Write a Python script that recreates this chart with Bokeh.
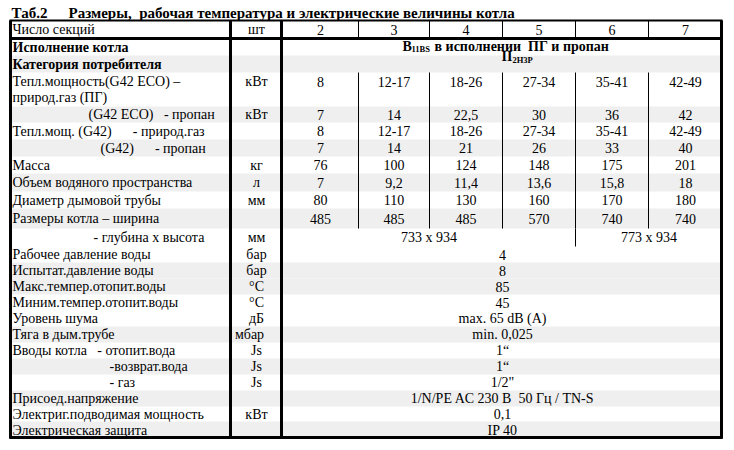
from bokeh.plotting import figure
from bokeh.models import Range1d, ColumnDataSource
from bokeh.core.properties import value
from bokeh.embed import file_html
from bokeh.resources import INLINE

# ---------------- data ----------------
title_lead = "Таб.2"
title_text = "Размеры,\u00a0\u00a0рабочая температура и электрические величины котла"

header_label = "Число секций"
header_unit = "шт"
sections = ["2", "3", "4", "5", "6", "7"]

version_label = "Исполнение котла"
version_main = "B"
version_sub = "11BS"
version_rest = "в исполнении\u00a0\u00a0ПГ и пропан"

category_label = "Категория потребителя"
category_main = "II"
category_sub = "2H3P"

power_label_lines = ["Тепл.мощность(G42 ECO) –", "природ.газ (ПГ)"]

row_labels = [
    "(G42 ECO)\u00a0\u00a0\u00a0- пропан",
    "Тепл.мощ. (G42)\u00a0\u00a0\u00a0\u00a0\u00a0\u00a0- природ.газ",
    "(G42)\u00a0\u00a0\u00a0\u00a0\u00a0\u00a0- пропан",
    "Масса",
    "Объем водяного пространства",
    "Диаметр дымовой трубы",
    "Размеры котла – ширина",
    "- глубина х высота",
    "Рабочее давление воды",
    "Испытат.давление воды",
    "Макс.темпер.отопит.воды",
    "Миним.темпер.отопит.воды",
    "Уровень шума",
    "Тяга в дым.трубе",
    "Вводы котла\u00a0\u00a0\u00a0- отопит.вода",
    "-возврат.вода",
    "- газ",
    "Присоед.напряжение",
    "Электриг.подводимая мощность",
    "Электрическая защита",
]
power_unit = "кВт"
row_units = ["кВт", "", "", "кг", "л", "мм", "", "мм", "бар", "бар", "°C", "°C",
             "дБ", "мбар", "Js", "Js", "Js", "", "кВт", ""]

power_eco_ng = ["8", "12-17", "18-26", "27-34", "35-41", "42-49"]
power_eco_lpg = ["7", "14", "22,5", "30", "36", "42"]
power_ng = ["8", "12-17", "18-26", "27-34", "35-41", "42-49"]
power_lpg = ["7", "14", "21", "26", "33", "40"]
mass = ["76", "100", "124", "148", "175", "201"]
water_volume = ["7", "9,2", "11,4", "13,6", "15,8", "18"]
flue_diameter = ["80", "110", "130", "160", "170", "180"]
boiler_width = ["485", "485", "485", "570", "740", "740"]
depth_height = ["733 x 934", "773 x 934"]
common_values = ["4", "8", "85", "45", "max. 65 dB (A)", "min. 0,025",
                 "1\u201c", "1\u201c", "1/2\"",
                 "1/N/PE AC 230 В\u00a0\u00a050 Гц / TN-S", "0,1", "IP 40"]

# ---------------- layout ----------------
FONT = "Liberation Serif"
FS = "14px"
X0, X_LAB, X_UNIT, X1 = 9, 230, 281, 722
col_edges = [282, 358, 429, 502, 575, 648, 722]
row_edges = [20, 38, 55, 72, 106, 122, 139, 156, 173, 191, 208, 228, 246,
             262, 278, 294, 310, 326, 342, 358, 374, 390, 406, 421, 438]
grey_rows = [2, 4, 6, 8, 10, 13, 14, 17, 19, 21, 23]
label_indent = [12, 88, 12, 100, 12, 12, 12, 12, 93, 12, 12, 12, 12, 12, 12,
                12, 109, 109, 12, 12, 12]

p = figure(width=726, height=442, output_backend="svg", toolbar_location=None,
           x_range=Range1d(0, 726), y_range=Range1d(442, 0),
           min_border=0, min_border_left=0, min_border_right=0,
           min_border_top=0, min_border_bottom=0)
p.xaxis.visible = False
p.yaxis.visible = False
p.grid.visible = False
p.outline_line_color = None
p.background_fill_color = "white"

# grey stripes
p.quad(left=[X0] * len(grey_rows), right=[X1] * len(grey_rows),
       top=[row_edges[i] for i in grey_rows],
       bottom=[row_edges[i + 1] for i in grey_rows],
       fill_color="#efefef", line_color=None)

def mid(i):
    return (row_edges[i] + row_edges[i + 1]) / 2

col_mid = [(col_edges[k] + col_edges[k + 1]) / 2 for k in range(6)]
unit_x = 256

# normal text
tx, ty, tt, ta = [], [], [], []
def add(x, y, t, a="center"):
    tx.append(x); ty.append(y); tt.append(t); ta.append(a)

# header
add(12, mid(0), header_label, "left")
add(unit_x, mid(0), header_unit)
for k, s in enumerate(sections):
    add(col_mid[k], mid(0), s)

# power double row
top3 = row_edges[3]
add(12, top3 + 9, power_label_lines[0], "left")
add(12, top3 + 25, power_label_lines[1], "left")
add(unit_x, top3 + 9, power_unit)
for k in range(6):
    add(col_mid[k], top3 + 9, power_eco_ng[k])

per_col = [power_eco_lpg, power_ng, power_lpg, mass, water_volume,
           flue_diameter, boiler_width]
for r, lab in enumerate(row_labels):
    ri = r + 4
    add(label_indent[r + 1], mid(ri), lab, "left")
    if row_units[r]:
        add(unit_x if row_units[r] != "мбар" else 249, mid(ri), row_units[r])
    if r < len(per_col):
        for k in range(6):
            add(col_mid[k], mid(ri), per_col[r][k])
    elif r == len(per_col):
        add((col_edges[0] + col_edges[4]) / 2, mid(ri), depth_height[0])
        add((col_edges[4] + col_edges[6]) / 2, mid(ri), depth_height[1])
    else:
        add((col_edges[0] + col_edges[6]) / 2, mid(ri),
            common_values[r - len(per_col) - 1])

src = ColumnDataSource(dict(x=tx, y=ty, text=tt, align=ta))
p.text(x="x", y="y", text="text", text_align="align", source=src,
       text_baseline="middle", text_font=value(FONT), text_font_size=FS,
       text_color="black")

# bold texts
bx = [12, 12, 402, 434, 501]
by = [mid(1), mid(2), 46, 46, 56]
bt = [version_label, category_label, version_main, version_rest, category_main]
p.text(x=bx, y=by, text=bt, text_align="left", text_baseline="middle",
       text_font=value(FONT), text_font_style="bold", text_font_size=FS,
       text_color="black")
p.text(x=[411, 512], y=[48.5, 59.5], text=[version_sub, category_sub],
       text_align="left", text_baseline="middle", text_font=value(FONT),
       text_font_style="bold", text_font_size="8.5px", text_color="black")

# title
p.text(x=[11, 68], y=[12, 12], text=[title_lead, title_text],
       text_align="left", text_baseline="middle", text_font=value(FONT),
       text_font_style="bold", text_font_size="15px", text_color="black")

# thin inner verticals
inner = col_edges[1:6]
vx0 = inner + inner + [575]
vy0 = [row_edges[0]] * 5 + [row_edges[3]] * 5 + [row_edges[11]]
vy1 = [row_edges[1]] * 5 + [row_edges[11]] * 5 + [row_edges[12]]
p.segment(x0=vx0, y0=vy0, x1=vx0, y1=vy1, line_color="black", line_width=1)

# thick lines
p.segment(x0=[X_LAB, X_UNIT, X0 + 1, X1 - 1], y0=[20, 20, 20, 20],
          x1=[X_LAB, X_UNIT, X0 + 1, X1 - 1], y1=[438, 438, 438, 438],
          line_color="black", line_width=3)
p.segment(x0=[X0, X0], y0=[row_edges[1], 437], x1=[X1, X1],
          y1=[row_edges[1], 437], line_color="black", line_width=3)
p.segment(x0=[X0], y0=[20], x1=[X1], y1=[20], line_color="black", line_width=2)

open("out.html", "w").write(file_html(p, INLINE))
